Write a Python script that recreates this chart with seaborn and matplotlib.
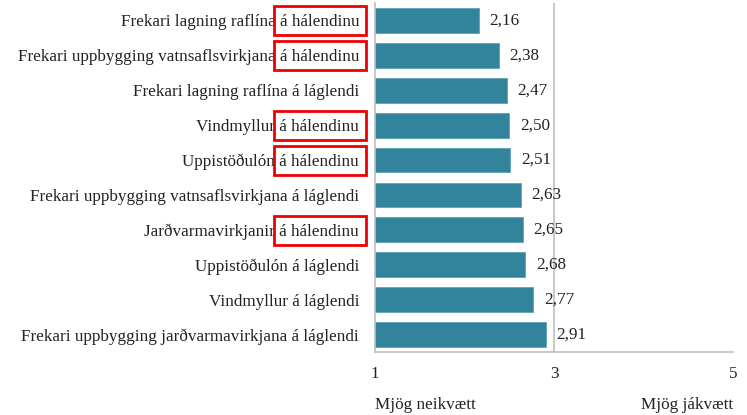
import matplotlib
matplotlib.use("Agg")
import matplotlib.pyplot as plt
import seaborn as sns
import pandas as pd
from matplotlib.patches import Rectangle

categories = [
    "Frekari lagning raflína á hálendinu",
    "Frekari uppbygging vatnsaflsvirkjana á hálendinu",
    "Frekari lagning raflína á láglendi",
    "Vindmyllur á hálendinu",
    "Uppistöðulón á hálendinu",
    "Frekari uppbygging vatnsaflsvirkjana á láglendi",
    "Jarðvarmavirkjanir á hálendinu",
    "Uppistöðulón á láglendi",
    "Vindmyllur á láglendi",
    "Frekari uppbygging jarðvarmavirkjana á láglendi",
]
values = [2.16, 2.38, 2.47, 2.50, 2.51, 2.63, 2.65, 2.68, 2.77, 2.91]
x_ticks = [1, 3, 5]
x_end_labels = ["Mjög neikvætt", "Mjög jákvætt"]
highlight = "á hálendinu"

sns.set_theme(style="white")
plt.rcParams["font.family"] = ["Liberation Serif", "DejaVu Serif"]
FS = 12.3

df = pd.DataFrame({"cat": categories, "val": values})
fig = plt.figure(figsize=(7.47, 4.15), dpi=100)
ax = fig.add_axes([375/747, 1-352/415, (733-375)/747, (352-3)/415])
sns.barplot(data=df, y="cat", x="val", color="#31849B", saturation=1,
            width=0.71, ax=ax, edgecolor="#5FA3B5", linewidth=0.6)
ax.set_xlim(1, 5)
ax.set_ylim(9.5, -0.5)
ax.set_xlabel("")
ax.set_ylabel("")
ax.set_xticks(x_ticks)
ax.set_xticklabels([str(t) for t in x_ticks], fontsize=FS, color="#222222")
ax.tick_params(axis="x", length=0, pad=10)
ax.tick_params(axis="y", length=0, pad=11.5, labelsize=FS, labelcolor="#222222")
ax.axvline(3, color="#BFBFBF", lw=1.2, zorder=0)
for s in ["top", "right"]:
    ax.spines[s].set_visible(False)
for s in ["left", "bottom"]:
    ax.spines[s].set_color("#BFBFBF")
    ax.spines[s].set_linewidth(1.2)

for i, v in enumerate(values):
    ax.text(v + 0.12, i, f"{v:.2f}".replace(".", ","), va="center", ha="left",
            fontsize=FS, color="#222222")

ax.text(1, -0.13, x_end_labels[0], transform=ax.get_xaxis_transform(),
        ha="left", va="top", fontsize=FS, color="#222222")
ax.text(5, -0.13, x_end_labels[1], transform=ax.get_xaxis_transform(),
        ha="right", va="top", fontsize=FS, color="#222222")

# red boxes around highlighted words
fig.canvas.draw()
renderer = fig.canvas.get_renderer()
for lab in ax.get_yticklabels():
    txt = lab.get_text()
    if txt.endswith(highlight):
        bb = lab.get_window_extent(renderer)
        w, h, d = renderer.get_text_width_height_descent(
            highlight, lab.get_fontproperties(), ismath=False)
        ycen = (bb.y0 + bb.y1) / 2 + 1.5
        x0 = bb.x1 - w - 6
        x1 = bb.x1 + 7
        bh = 29
        rect = Rectangle((x0, ycen - bh/2), x1 - x0, bh, transform=None,
                         fill=False, edgecolor="#F00000", linewidth=2.0,
                         clip_on=False)
        fig.patches.append(rect)

fig.savefig("out.png", dpi=100)
